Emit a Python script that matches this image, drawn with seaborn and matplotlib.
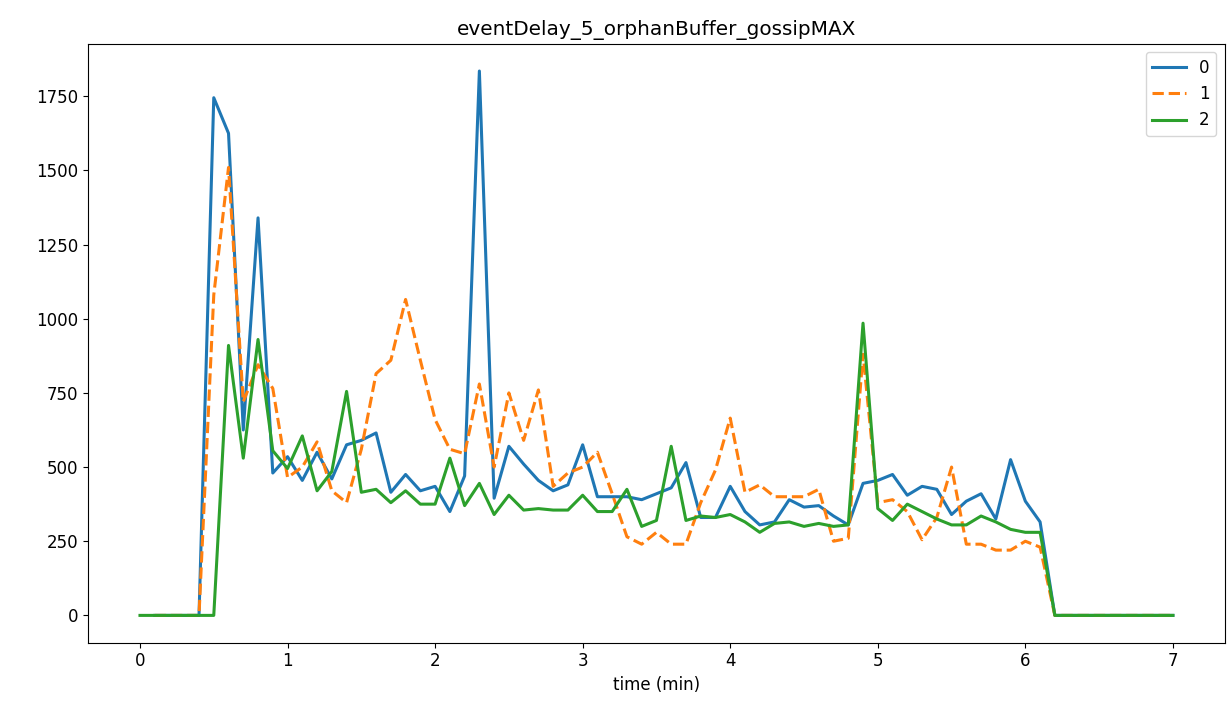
import numpy as np
import pandas as pd
import matplotlib
matplotlib.use('Agg')
import matplotlib.pyplot as plt
import seaborn as sns

time_min = [round(i * 0.1, 1) for i in range(71)]

# series 0 and 1 only start at t=0.1
s0 = [np.nan, 0, 0, 0, 0, 1745, 1625, 625, 1340, 480,
      535, 455, 550, 460, 575, 590, 615, 415, 475, 420,
      435, 350, 470, 1835, 395, 570, 510, 455, 420, 440,
      575, 400, 400, 400, 390, 410, 430, 515, 330, 330,
      435, 350, 305, 315, 390, 365, 370, 335, 305, 445,
      455, 475, 405, 435, 425, 340, 385, 410, 325, 525,
      385, 315, 0, 0, 0, 0, 0, 0, 0, 0, 0]

s1 = [np.nan, 0, 0, 0, 0, 1080, 1510, 720, 845, 765,
      465, 500, 585, 420, 380, 560, 815, 860, 1065, 860,
      660, 560, 545, 780, 500, 750, 590, 760, 435, 480,
      500, 550, 410, 265, 240, 280, 240, 240, 380, 490,
      665, 415, 440, 400, 400, 400, 425, 250, 260, 880,
      380, 390, 350, 255, 330, 500, 240, 240, 220, 220,
      250, 230, 0, 0, 0, 0, 0, 0, 0, 0, 0]

s2 = [0, 0, 0, 0, 0, 0, 910, 530, 930, 555,
      495, 605, 420, 485, 755, 415, 425, 380, 420, 375,
      375, 530, 370, 445, 340, 405, 355, 360, 355, 355,
      405, 350, 350, 425, 300, 320, 570, 320, 335, 330,
      340, 315, 280, 310, 315, 300, 310, 300, 305, 985,
      360, 320, 375, 350, 325, 305, 305, 335, 315, 290,
      280, 280, 0, 0, 0, 0, 0, 0, 0, 0, 0]

series_names = ['0', '1', '2']

df = pd.DataFrame({'time': time_min, '0': s0, '1': s1, '2': s2})
long_df = df.melt(id_vars='time', var_name='series', value_name='delay').dropna()

plt.rcParams['font.size'] = 12
fig, ax = plt.subplots(figsize=(12.27, 7.18), dpi=100)
sns.lineplot(data=long_df, x='time', y='delay', hue='series', style='series',
             hue_order=series_names, style_order=series_names,
             palette=['#1f77b4', '#ff7f0e', '#2ca02c'],
             dashes=['', (3.7, 1.6), ''], linewidth=2.2, ax=ax)

ax.set_title('eventDelay_5_orphanBuffer_gossipMAX')
ax.set_xlabel('time (min)')
ax.set_ylabel('')
ax.set_xlim(-0.35, 7.35)
ax.set_yticks(np.arange(0, 1751, 250))
ax.set_xticks(range(0, 8))
ax.legend(loc='upper right')

fig.subplots_adjust(left=0.072, right=0.998, top=0.939, bottom=0.105)
plt.savefig('out.png')
